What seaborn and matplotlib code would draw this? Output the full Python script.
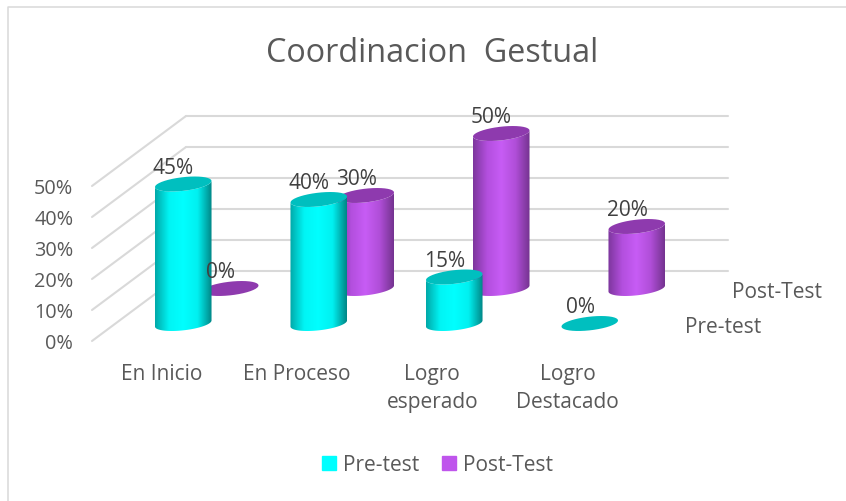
#!/usr/bin/env python3

import numpy as np
import matplotlib
matplotlib.use("Agg")
import matplotlib.pyplot as plt
import seaborn as sns
from matplotlib.colors import LinearSegmentedColormap
from matplotlib.lines import Line2D
from matplotlib.patches import Patch, PathPatch
from matplotlib.path import Path
from matplotlib.transforms import ScaledTranslation

# data
categories = ["En Inicio", "En Proceso", "Logro\nesperado", "Logro\nDestacado"]
pre_test = [0.45, 0.40, 0.15, 0.00]
post_test = [0.00, 0.30, 0.50, 0.20]
y_ticks = [0.0, 0.1, 0.2, 0.3, 0.4, 0.5]

W, H = 846, 502
TEXT = "#595959"
LABEL = "#404040"
GRID = "#d9d9d9"

# plot box of the front plane in pixels, and how far the back wall is shifted
LEFT, RIGHT, BASE, TOP = 92, 634, 342, 187
DEPTH_X, DEPTH_Y = 94, 70

sns.set_style("white")
plt.rcParams["font.family"] = ["Open Sans", "DejaVu Sans"]

fig = plt.figure(figsize=(W / 100, H / 100), dpi=100)

#full figure axes, coordinates are pixels
canvas = fig.add_axes([0, 0, 1, 1], zorder=0)
canvas.set_xlim(0, W)
canvas.set_ylim(H, 0)
canvas.axis("off")


def plane_axes(depth, zorder):
    """axes for one plane of the fake 3d box, depth 0 is the front, 1 the wall"""
    x0 = LEFT + depth * DEPTH_X
    y0 = BASE - depth * DEPTH_Y
    ax = fig.add_axes([x0 / W, 1 - y0 / H, (RIGHT - LEFT) / W, (BASE - TOP) / H], zorder=zorder)
    ax.patch.set_alpha(0)
    sns.despine(ax=ax, left=True, bottom=True)
    return ax


def tilted_ellipse(cx, cy, a, start, stop, n=40):
    # right end sits a bit higher than the left end, like the excel cylinders
    b, tilt = 6.8, np.radians(6.5)
    t = np.linspace(start, stop, n)
    x = cx + a * np.cos(t) * np.cos(tilt) + b * np.sin(t) * np.sin(tilt)
    y = cy - a * np.cos(t) * np.sin(tilt) + b * np.sin(t) * np.cos(tilt)
    return np.column_stack([x, y])


def draw_cylinders(ax, values, side_colors, top_color):
    cmap = LinearSegmentedColormap.from_list("side", side_colors)
    gradient = np.linspace(0, 1, 256).reshape(1, -1)
    to_px = canvas.transData
    from_disp = canvas.transData.inverted()
    #imshow would change the limits otherwise
    ax.set_xlim(-0.5, 3.5)
    ax.set_ylim(0, 0.5)
    ax.set_autoscale_on(False)
    for bar, value in zip(ax.patches, values):
        x0, x1 = bar.get_x(), bar.get_x() + bar.get_width()
        (px0, py_top), (px1, py_base) = from_disp.transform(ax.transData.transform([(x0, value), (x1, 0)]))
        cx, a = (px0 + px1) / 2, (px1 - px0) / 2
        bar.set_visible(False)
        if value > 0:
            outline = np.vstack([
                tilted_ellipse(cx, py_base, a, np.pi, 0),
                tilted_ellipse(cx, py_top, a, 0, np.pi),
            ])
            body = PathPatch(Path(outline), transform=to_px, facecolor="none", edgecolor="none")
            ax.add_artist(body)
            im = ax.imshow(gradient, cmap=cmap, aspect="auto", zorder=2,
                           extent=(x0, x1, -0.1, value + 0.1), interpolation="bilinear")
            ax.set_xlim(-0.5, 3.5)
            ax.set_ylim(0, 0.5)
            im.set_clip_box(fig.bbox)
            im.set_clip_path(body)
        top = PathPatch(Path(tilted_ellipse(cx, py_top, a, 0, 2 * np.pi)), transform=to_px,
                        facecolor=top_color, edgecolor="none", zorder=3, clip_on=False)
        ax.add_artist(top)


#chart frame (only top and left show in the screenshot)
canvas.plot([7.5, 7.5, W], [H, 7.5, 7.5], color=GRID, lw=1.1)

#front plane carries the value and category ticks
ax_front = plane_axes(0, 1)
ax_front.set_xlim(-0.5, 3.5)
ax_front.set_ylim(0, 0.5)
ax_front.set_yticks(y_ticks)
ax_front.set_yticklabels([f"{v:.0%}" for v in y_ticks], color=TEXT, fontsize=14.3)
ax_front.set_xticks(range(len(categories)))
ax_front.set_xticklabels(categories, color=TEXT, fontsize=15, linespacing=1.4, va="top")
ax_front.tick_params(axis="y", length=0, pad=13.5)
ax_front.tick_params(axis="x", length=0, pad=16)
for label in ax_front.get_xticklabels():
    label.set_transform(label.get_transform() + ScaledTranslation(1.5 / 100, 0, fig.dpi_scale_trans))

#back wall with gridlines
ax_wall = plane_axes(1, 1)
ax_wall.set_xlim(-0.5, 3.5)
ax_wall.set_ylim(0, 0.5)
ax_wall.set_xticks([])
ax_wall.set_yticks(y_ticks)
ax_wall.set_yticklabels([])
ax_wall.tick_params(axis="y", length=0)
ax_wall.grid(axis="y", color=GRID, lw=1.5)
for line in ax_wall.get_ygridlines():
    line.set_clip_on(False)

#side wall lines going from front plane to the back wall
for v in y_ticks:
    y = BASE - v / y_ticks[-1] * (BASE - TOP)
    canvas.add_line(Line2D([LEFT, LEFT + DEPTH_X], [y, y - DEPTH_Y], color=GRID, lw=1.5))

#series, post-test sits behind pre-test
ax_post = plane_axes(0.75, 2)
sns.barplot(x=categories, y=post_test, color="#bf55ec", width=0.42, ax=ax_post)
draw_cylinders(ax_post, post_test, ["#7c369c", "#b34fde", "#c75cf5", "#b04ed8", "#74338f"], "#8e3aae")

ax_pre = plane_axes(0.25, 3)
sns.barplot(x=categories, y=pre_test, color="#00ffff", width=0.42, ax=ax_pre)
draw_cylinders(ax_pre, pre_test, ["#00a8a8", "#00f5f5", "#00ffff", "#00f0f0", "#008585"], "#00bfbf")

for ax in (ax_post, ax_pre):
    ax.set_xticks([])
    ax.set_yticks([])
    ax.set_xlabel("")
    ax.set_ylabel("")

#value labels on a top layer so they stay above the cylinders
ax_labels = plane_axes(0, 4)
ax_labels.axis("off")
for ax, values in ((ax_post, post_test), (ax_pre, pre_test)):
    for i, value in enumerate(values):
        ax_labels.annotate(f"{value:.0%}", xy=(i, value), xycoords=ax.transData,
                           xytext=(-7, 12), textcoords="offset points", ha="center", va="center",
                           color=LABEL, fontsize=15, annotation_clip=False)

#series names along the depth axis
ax_post.annotate("Post-Test", xy=(1.0, 0.0), xycoords="axes fraction", xytext=(20, -2), textcoords="offset points",
                 ha="left", va="center", color=TEXT, fontsize=15, annotation_clip=False)
ax_pre.annotate("Pre-test", xy=(1.0, 0.0), xycoords="axes fraction", xytext=(20, -2), textcoords="offset points",
                ha="left", va="center", color=TEXT, fontsize=15, annotation_clip=False)

fig.text(432 / W, 1 - 54 / H, "Coordinacion  Gestual", ha="center", va="center", color=TEXT, fontsize=23.3)

handles = [Patch(color="#00ffff", label="Pre-test"), Patch(color="#bf55ec", label="Post-Test")]
fig.legend(handles=handles, loc="center", bbox_to_anchor=(437.5 / W, 1 - 466 / H), ncol=2, frameon=False,
           fontsize=15, labelcolor=TEXT, handlelength=0.65, handleheight=0.65, handletextpad=0.35,
           columnspacing=1.1)

plt.savefig("out.png", dpi=100)
